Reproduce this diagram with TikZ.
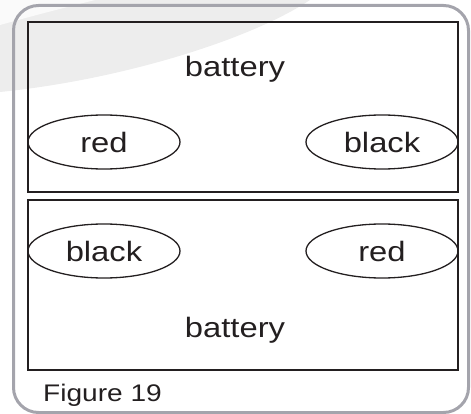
\documentclass[tikz,border=0pt]{standalone}
\usepackage{fontspec}
\setmainfont{Liberation Sans}[FakeStretch=1.17]
\usetikzlibrary{
    shapes.geometric,
    positioning
}
\definecolor{framegray}{HTML}{A4A4AC}
\definecolor{ink}{HTML}{231F20}
\definecolor{swoosh}{HTML}{EDEDED}
\def\bsep{8pt}
\tikzset{
    cell/.style = {
        draw=ink,
        line width = 2pt,
        minimum width  = 430pt,
        minimum height = 169.5pt,
        inner sep=0pt,
        outer sep=0pt,
    },
    post/.style = {
        ellipse,
        draw=ink,
        line width = 1.3pt,
        minimum width  = 152pt,
        minimum height = 54pt,
        inner sep=0pt,
        outer sep=0pt,
        text=ink,
        font=\fontsize{28}{30}\selectfont,
    },
    title/.style = {
        inner sep=0pt,
        text=ink,
        font=\fontsize{28}{30}\selectfont,
    },
}

\begin{document}
\begin{tikzpicture}[x=1pt, y=-1pt]
        \useasboundingbox (0,0) rectangle (471,414);

        % background swoosh
        \fill[swoosh] (0,0) -- (0,92) .. controls (120,80) and (250,40) .. (310,0) -- cycle;
        \fill[gray!4] (0,0) -- (0,25) .. controls (40,14) .. (95,0) -- cycle;

        % outer frame
        \draw[framegray, line width=3pt, rounded corners=25pt] (13.5,5.5) rectangle (468.5,412.5);

        \node (top) [cell] at (243,107.25) {};
        \node (bottom) [below=\bsep of top, cell] {};

        \node (topname) [title, anchor=base] at (235,77) {battery};
        \node (bottomname) [title, anchor=base] at (235,337) {battery};

        \node (topred) [post, anchor=west] at (top.west |- 0,142) {red};
        \node (topblack) [post, anchor=east] at (top.east |- 0,142) {black};
        \node (bottomblack) [post, anchor=west] at (bottom.west |- 0,251) {black};
        \node (bottomred) [post, anchor=east] at (bottom.east |- 0,251) {red};

        \node (figname) [title, anchor=base west, font=\fontsize{24}{26}\selectfont] at (43,401) {Figure 19};

    \end{tikzpicture}
\end{document}
